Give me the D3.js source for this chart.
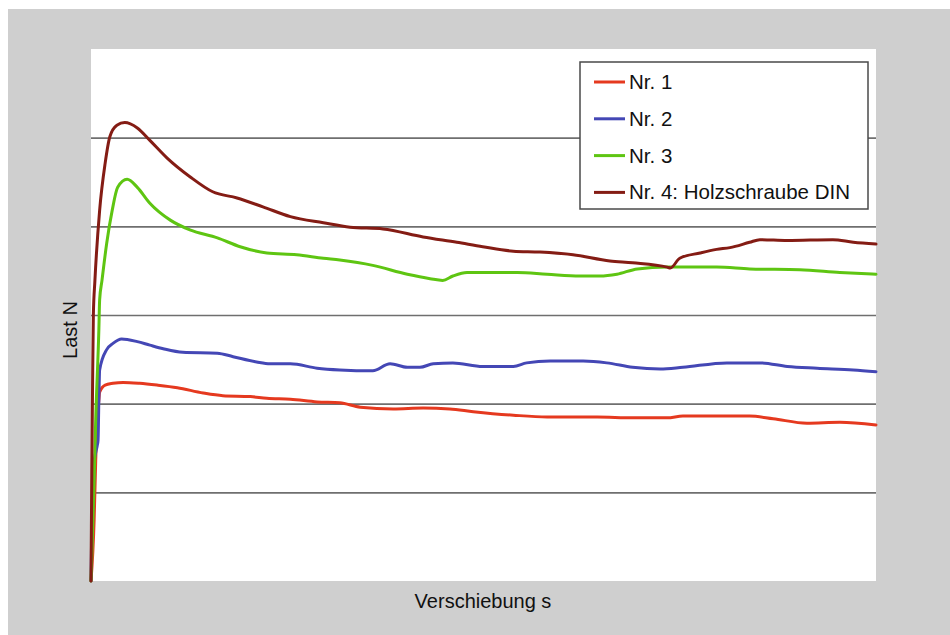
<!DOCTYPE html>
<html>
<head>
<meta charset="utf-8">
<script src="https://cdn.jsdelivr.net/npm/d3@7"></script>
<style>
  html, body { margin: 0; padding: 0; background: #ffffff; }
  svg { display: block; }
  text { font-family: "Liberation Sans", Arial, sans-serif; fill: #111; }
</style>
</head>
<body>
<svg id="chart" width="950" height="635"></svg>
<script>
// Load-displacement curves, displacement s (x) vs. load N (y), arbitrary units
const seriesNames = ["Nr. 1", "Nr. 2", "Nr. 3", "Nr. 4: Holzschraube DIN"];
const seriesColors = ["#e5391f", "#4447b5", "#5ec512", "#841c14"];

const nr1 = [
  [0,0],[0.4,0.69],[0.6,1.36],[0.8,1.82],[1.0,2.04],[1.1,2.13],[1.8,2.21],[2.8,2.23],
  [4.1,2.24],[6.2,2.23],[8.4,2.21],[11.0,2.18],[14.3,2.12],[16.8,2.09],[20.3,2.08],
  [22.4,2.06],[25.4,2.05],[28.8,2.02],[31.7,2.01],[34.3,1.96],[38.5,1.94],[42.3,1.95],
  [45.7,1.94],[48.7,1.91],[53.8,1.87],[58.1,1.85],[64.5,1.85],[69.0,1.84],[73.4,1.84],
  [75.4,1.86],[83.9,1.86],[86.9,1.83],[91.2,1.78],[95.4,1.79],[100,1.76]
];
const nr2 = [
  [0,0],[0.1,0.58],[0.3,0.97],[0.4,1.34],[0.6,1.45],[0.8,1.53],[0.9,1.59],[1.0,2.04],
  [1.1,2.38],[2.0,2.61],[2.8,2.68],[3.9,2.73],[5.9,2.70],[7.5,2.66],[9.2,2.62],
  [11.7,2.58],[16.1,2.57],[18.1,2.53],[21.1,2.47],[22.8,2.45],[25.4,2.45],[28.8,2.40],
  [31.7,2.38],[35.9,2.37],[38.1,2.45],[40.3,2.41],[41.9,2.41],[43.6,2.45],[46.1,2.46],
  [49.9,2.42],[53.8,2.42],[55.5,2.46],[58.5,2.48],[62.7,2.48],[65.7,2.46],[69.0,2.41],
  [72.5,2.39],[75.4,2.41],[81.0,2.46],[85.2,2.46],[88.7,2.42],[92.5,2.40],[97.1,2.38],
  [100,2.36]
];
const nr3 = [
  [0,0],[0.4,1.14],[0.6,1.82],[1.0,2.83],[1.1,3.17],[1.4,3.39],[2.0,3.81],[2.7,4.18],
  [3.4,4.44],[4.6,4.53],[5.9,4.44],[7.5,4.26],[10.1,4.07],[12.6,3.96],[16.1,3.87],
  [19.0,3.77],[22.4,3.70],[26.2,3.68],[29.6,3.64],[31.7,3.62],[35.9,3.56],[40.3,3.46],
  [43.2,3.41],[44.8,3.39],[46.1,3.44],[47.9,3.48],[54.3,3.48],[58.1,3.46],[62.3,3.44],
  [64.8,3.44],[67.0,3.46],[69.6,3.52],[73.4,3.54],[79.7,3.54],[83.9,3.52],[90.3,3.51],
  [95.4,3.48],[100,3.46]
];
const nr4 = [
  [0,0],[0.05,0.6],[0.1,1.2],[0.2,2.2],[0.3,3.0],[0.5,3.39],[1.1,4.18],[1.8,4.71],[2.4,5.01],
  [3.3,5.14],[4.3,5.17],[5.9,5.11],[7.5,4.97],[9.7,4.77],[12.6,4.56],[15.5,4.39],
  [18.6,4.32],[21.9,4.22],[25.4,4.11],[29.6,4.04],[33.0,3.99],[37.2,3.97],[42.3,3.88],
  [46.6,3.82],[49.9,3.77],[53.8,3.72],[57.2,3.71],[61.4,3.68],[66.1,3.61],[69.0,3.59],
  [73.4,3.54],[73.8,3.53],[75.0,3.64],[77.6,3.70],[79.7,3.74],[81.4,3.76],[83.9,3.82],
  [85.2,3.85],[88.7,3.84],[94.5,3.85],[97.1,3.82],[100,3.80]
];
const seriesData = [nr1, nr2, nr3, nr4];
const gridValues = [1, 2, 3, 4, 5];

const svg = d3.select("#chart");
const W = 950, H = 635;
const plot = { left: 91, top: 49, right: 876, bottom: 581 };

// outer frame
svg.append("rect").attr("x", 8).attr("y", 9).attr("width", W - 8).attr("height", H - 9)
  .attr("fill", "#cfcfcf");
svg.append("rect").attr("x", plot.left).attr("y", plot.top)
  .attr("width", plot.right - plot.left).attr("height", plot.bottom - plot.top)
  .attr("fill", "#ffffff");

const x = d3.scaleLinear().domain([0, 100]).range([plot.left, plot.right]);
const y = d3.scaleLinear().domain([0, 6]).range([plot.bottom, plot.top]);

// horizontal gridlines (no tick labels)
const yAxis = d3.axisLeft(y).tickValues(gridValues)
  .tickSize(-(plot.right - plot.left)).tickFormat("");
const gy = svg.append("g").attr("transform", `translate(${plot.left},0)`).call(yAxis);
gy.select(".domain").remove();
gy.selectAll(".tick line").attr("stroke", "#6f6f6f").attr("stroke-width", 1.6);

// curves
const line = d3.line()
  .x(d => x(d[0])).y(d => y(d[1]))
  .curve(d3.curveMonotoneX);

svg.append("g").selectAll("path")
  .data(seriesData)
  .join("path")
  .attr("d", line)
  .attr("fill", "none")
  .attr("stroke", (d, i) => seriesColors[i])
  .attr("stroke-width", 3)
  .attr("stroke-linejoin", "round")
  .attr("stroke-linecap", "round");

// axis titles
svg.append("text")
  .attr("x", (plot.left + plot.right) / 2 - 0.5).attr("y", 608)
  .attr("text-anchor", "middle").attr("font-size", 20)
  .text("Verschiebung s");
svg.append("text")
  .attr("transform", `translate(77,${(plot.top + plot.bottom) / 2 + 15}) rotate(-90)`)
  .attr("text-anchor", "middle").attr("font-size", 20)
  .text("Last N");

// legend
const legend = svg.append("g").attr("transform", "translate(580,62)");
legend.append("rect").attr("width", 288).attr("height", 147)
  .attr("fill", "#ffffff").attr("stroke", "#4a4a4a").attr("stroke-width", 1.5);
const rows = legend.selectAll("g.row").data(seriesNames).join("g")
  .attr("class", "row")
  .attr("transform", (d, i) => `translate(0,${20 + i * 36.8})`);
rows.append("line").attr("x1", 14).attr("x2", 45).attr("y1", 0).attr("y2", 0)
  .attr("stroke", (d, i) => seriesColors[i]).attr("stroke-width", 3);
rows.append("text").attr("x", 49).attr("y", 7).attr("font-size", 20.5)
  .text(d => d);
</script>
</body>
</html>
